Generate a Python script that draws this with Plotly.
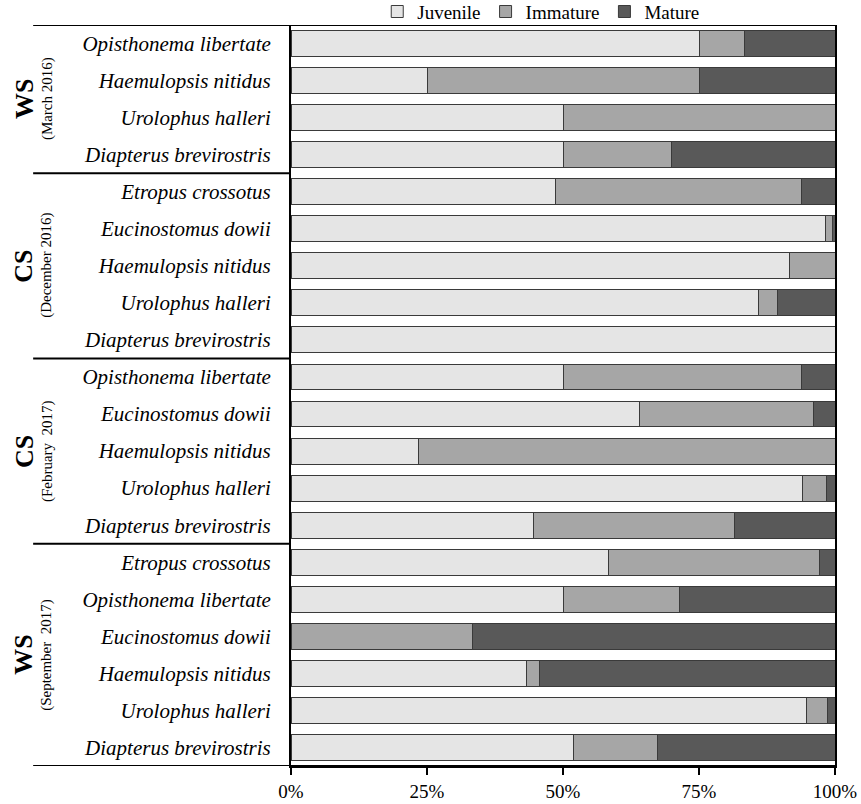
import plotly.graph_objects as go

# Species per sampling campaign, top to bottom
species = [
    "Opisthonema libertate", "Haemulopsis nitidus", "Urolophus halleri", "Diapterus brevirostris",
    "Etropus crossotus", "Eucinostomus dowii", "Haemulopsis nitidus", "Urolophus halleri", "Diapterus brevirostris",
    "Opisthonema libertate", "Eucinostomus dowii", "Haemulopsis nitidus", "Urolophus halleri", "Diapterus brevirostris",
    "Etropus crossotus", "Opisthonema libertate", "Eucinostomus dowii", "Haemulopsis nitidus", "Urolophus halleri",
    "Diapterus brevirostris",
]

# Maturity stage percentages (%)
juvenile = [75.0, 25.0, 50.0, 50.0,
            48.7, 98.3, 91.7, 86.0, 100.0,
            50.0, 64.0, 23.4, 94.1, 44.6,
            58.4, 50.0, 0.0, 43.3, 94.7, 51.9]
immature = [8.3, 50.0, 50.0, 20.0,
            45.2, 1.3, 8.3, 3.5, 0.0,
            43.75, 32.0, 76.6, 4.4, 37.0,
            38.8, 21.4, 33.3, 2.4, 3.9, 15.4]
mature = [16.7, 25.0, 0.0, 30.0,
          6.1, 0.4, 0.0, 10.5, 0.0,
          6.25, 4.0, 0.0, 1.5, 18.4,
          2.8, 28.6, 66.7, 54.3, 1.4, 32.7]

# Campaign groups: (season, date, number of species)
groups = [("WS", "(March 2016)", 4),
          ("CS", "(December 2016)", 5),
          ("CS", "(February\u00a0\u00a02017)", 5),
          ("WS", "(September\u00a0\u00a02017)", 6)]

stages = ["Juvenile", "Immature", "Mature"]
colors = ["#e5e5e5", "#a6a6a6", "#595959"]

FONT = "Liberation Serif, Times New Roman, serif"
rows = list(range(len(species)))

fig = go.Figure()
for name, vals, col in zip(stages, [juvenile, immature, mature], colors):
    fig.add_trace(go.Bar(
        name=name, y=rows, x=[v if v > 0 else None for v in vals],
        orientation="h", marker=dict(color=col, line=dict(color="#3a3a3a", width=1)),
    ))

# Left panel geometry in paper units
left_x = -0.474

shapes = []
annotations = []
start = 0
bounds = [-0.5]
for season, date, n in groups:
    centre = start + (n - 1) / 2
    annotations.append(dict(x=-0.491, y=centre, xref="paper", yref="y", text="<b>%s</b>" % season,
                            textangle=-90, showarrow=False, xanchor="center", yanchor="middle",
                            font=dict(family=FONT, size=26, color="black")))
    annotations.append(dict(x=-0.4485, y=centre, xref="paper", yref="y", text=date,
                            textangle=-90, showarrow=False, xanchor="center", yanchor="middle",
                            font=dict(family=FONT, size=15, color="black")))
    start += n
    bounds.append(start - 0.5)

for i, b in enumerate(bounds):
    shapes.append(dict(type="line", xref="paper", yref="y", x0=left_x, x1=1.0 if i in (0, len(bounds) - 1) else 0,
                       y0=b, y1=b, line=dict(color="black", width=2)))

fig.update_layout(
    width=861, height=804,
    margin=dict(l=291, r=26, t=25, b=38, autoexpand=False),
    plot_bgcolor="white", paper_bgcolor="white",
    barmode="stack", bargap=0.3,
    font=dict(family=FONT, size=19, color="black"),
    legend=dict(orientation="h", x=0.46, xanchor="center", y=1.018, yanchor="middle",
                font=dict(family=FONT, size=19), itemwidth=30, traceorder="normal",
                bgcolor="rgba(0,0,0,0)", tracegroupgap=0),
    shapes=shapes, annotations=annotations,
    xaxis=dict(range=[0, 100], tickvals=[0, 25, 50, 75, 100],
               ticktext=["0%", "25%", "50%", "75%", "100%"],
               showgrid=False, zeroline=False, showline=True, linecolor="black", linewidth=2,
               ticks="outside", ticklen=7, tickwidth=2, tickcolor="black",
               tickfont=dict(family=FONT, size=19)),
    yaxis=dict(range=[19.5, -0.5], tickvals=rows, ticktext=["<i>%s</i>" % s for s in species],
               showgrid=False, zeroline=False, showline=True, mirror=True,
               linecolor="black", linewidth=2, ticks="", ticklabelstandoff=14,
               tickfont=dict(family=FONT, size=21)),
)

fig.write_html("out.html")
